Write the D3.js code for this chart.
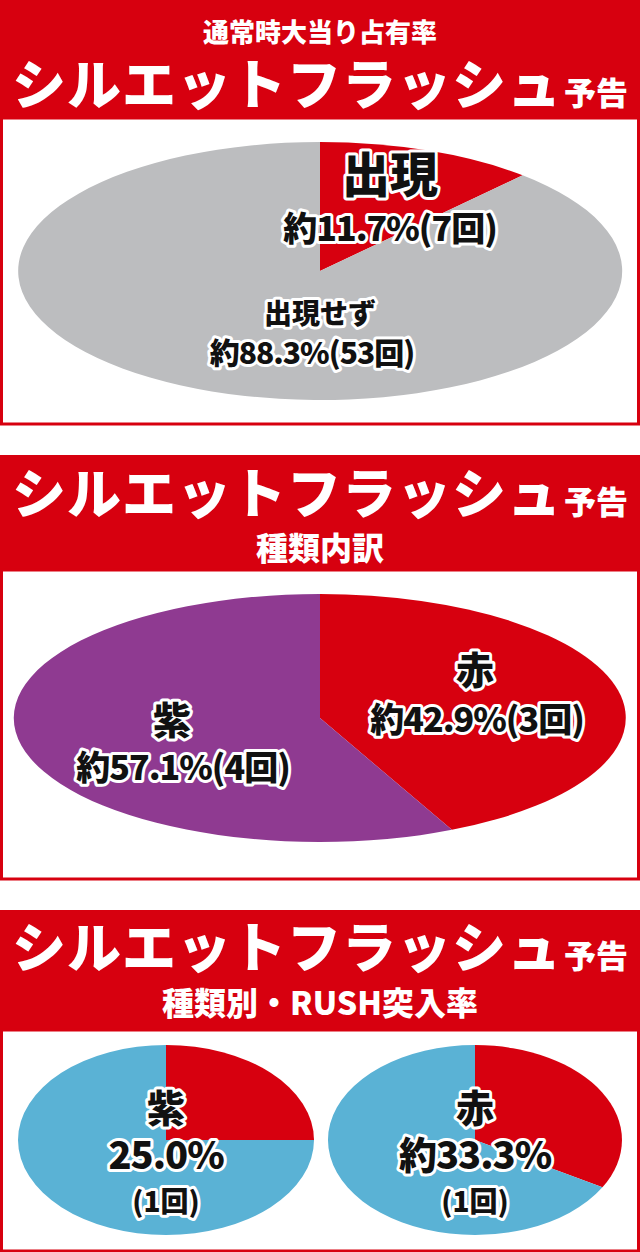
<!DOCTYPE html><html><head><meta charset="utf-8"><script src="https://cdn.jsdelivr.net/npm/d3@7"></script>
<style>body{margin:0;background:#fff}svg{display:block}text{font-family:"Noto Sans CJK JP";font-weight:900}</style></head><body>
<script>
const chart1Labels=["出現","出現せず"];const chart1Values=[11.7,88.3];const chart1Text=["約11.7%(7回)","約88.3%(53回)"];
const chart2Labels=["赤","紫"];const chart2Values=[42.9,57.1];const chart2Text=["約42.9%(3回)","約57.1%(4回)"];
const chart3Labels=["紫","赤"];const chart3Values=[25.0,33.3];const chart3Text=["25.0%","約33.3%"];const chart3Counts=["(1回)","(1回)"];
const RED="#d7000f",GREY="#bcbdbf",PURPLE="#8f3a91",BLUE="#5ab2d5";
const svg=d3.select("body").append("svg").attr("width",640).attr("height",1252);
function header(y,h,lines){svg.append("rect").attr("x",0).attr("y",y).attr("width",640).attr("height",h).attr("fill",RED);
 lines.forEach(l=>{const t=svg.append("text").attr("x",l.x).attr("y",l.y).attr("text-anchor","middle").attr("fill","#fff").attr("font-size",l.s).attr("letter-spacing",l.ls||0).text(l.t);
 if(l.sub)t.append("tspan").attr("font-size",l.sub.s).attr("letter-spacing",0).attr("dx",2).text(l.sub.t);});}
function box(y,h){svg.append("rect").attr("x",1.5).attr("y",y).attr("width",637).attr("height",h).attr("fill","#fff").attr("stroke",RED).attr("stroke-width",3);}
function pie(cx,cy,rx,ry,vals,cols){const p=d3.pie().sort(null).value(d=>d)(vals);const a=d3.arc().innerRadius(0).outerRadius(1);
 const g=svg.append("g").attr("transform",`translate(${cx},${cy}) scale(${rx},${ry})`);
 g.selectAll("path").data(p).join("path").attr("d",a).attr("fill",(d,i)=>cols[i]);}
function label(x,y,s,t,ls){svg.append("text").attr("x",x).attr("y",y).attr("text-anchor","middle").attr("font-size",s).attr("letter-spacing",ls||0).attr("fill","#111").attr("stroke","#fff").attr("stroke-width",6).attr("stroke-linejoin","round").attr("paint-order","stroke").text(t);}
const sil="シルエットフラッシュ";
header(0,120,[{x:320,y:42,s:26,t:"通常時大当り占有率"},{x:320,y:105,s:54,ls:1,t:sil,sub:{s:32,t:"予告"}}]);
box(118,306);
pie(320,271,302,129,chart1Values,[RED,GREY]);
label(390,192,48,chart1Labels[0]);label(390,241,34,chart1Text[0],-1);
label(320,324,28,chart1Labels[1]);label(312,364,30,chart1Text[1],-1);
header(455,117,[{x:320,y:514,s:54,ls:1,t:sil,sub:{s:32,t:"予告"}},{x:320,y:560,s:32,t:"種類内訳"}]);
box(570,309);
pie(320,718,306,124,chart2Values,[RED,PURPLE]);
label(475,684,38,chart2Labels[0]);label(477,732,34,chart2Text[0],-1);
label(172,734,38,chart2Labels[1]);label(183,780,34,chart2Text[1],-1);
header(910,120,[{x:320,y:968,s:54,ls:1,t:sil,sub:{s:32,t:"予告"}},{x:320,y:1015,s:32,t:"種類別・RUSH突入率"}]);
box(1030,221);
pie(166,1140,148,95,[chart3Values[0],100-chart3Values[0]],[RED,BLUE]);
pie(475,1140,147,95,[chart3Values[1],100-chart3Values[1]],[RED,BLUE]);
[166,475].forEach((x,i)=>{label(x,1122,38,chart3Labels[i]);label(x,1169,38,chart3Text[i],-1);label(x,1212,28,chart3Counts[i]);});
</script></body></html>
